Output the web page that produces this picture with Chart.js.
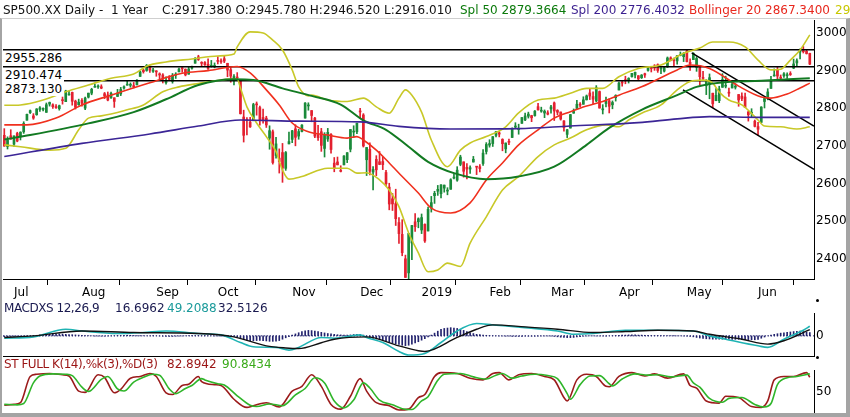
<!DOCTYPE html>
<html>
<head>
<meta charset="utf-8">
<script src="https://cdn.jsdelivr.net/npm/chart.js@4.4.1/dist/chart.umd.min.js"></script>
<style>
  html, body { margin: 0; padding: 0; background: #fff; }
  body { width: 850px; height: 417px; position: relative; overflow: hidden; font-family: "DejaVu Sans", sans-serif; font-size: 12px; }
  canvas { position: absolute; left: 0; }
  .txt { position: absolute; white-space: pre; line-height: 14px; z-index: 2; }
  .narrow { letter-spacing: -0.45px; }
  .level { position: absolute; left: 3px; background: #fff; padding: 0 2px; line-height: 14px; z-index: 2; color: #000; }
  .dot { position: absolute; width: 3px; height: 3px; border-radius: 50%; background: #000; z-index: 2; }
  #frame { position: absolute; left: 0; top: 18px; width: 850px; height: 399px; box-sizing: border-box;
           border-left: 2px solid #a4a4a4; border-right: 4px solid #a4a4a4; border-bottom: 4px solid #a4a4a4;
           border-top: 1px solid #cfcfcf; z-index: 3; pointer-events: none; }
</style>
</head>
<body>
<div class="txt" style="left:3px;top:3px;color:#111">SP500.XX Daily -  1 Year</div>
<div class="txt" style="left:162px;top:3px;color:#111">C:2917.380 O:2945.780 H:2946.520 L:2916.010</div>
<div class="txt" style="left:460px;top:3px;color:#0b7a0b">Spl 50 2879.3664</div>
<div class="txt" style="left:571px;top:3px;color:#3b1f8f">Spl 200 2776.4032</div>
<div class="txt" style="left:689px;top:3px;color:#e8281e">Bollinger 20 2867.3400</div>
<div class="txt" style="left:835px;top:3px;color:#c8c800">29</div>

<div class="txt narrow" style="left:4px;top:301px;color:#1a1a50">MACDXS 12,26,9</div>
<div class="txt" style="left:115px;top:301px;color:#1a1a50">16.6962</div>
<div class="txt" style="left:167px;top:301px;color:#1a9a9a">49.2088</div>
<div class="txt" style="left:218px;top:301px;color:#1a1a50">32.5126</div>

<div class="txt narrow" style="left:4px;top:357px;color:#9b1515">ST FULL K(14),%k(3),%D(3)</div>
<div class="txt" style="left:167px;top:357px;color:#9b1515">82.8942</div>
<div class="txt" style="left:222px;top:357px;color:#3aaa1a">90.8434</div>

<div class="dot" style="left:816px;top:299px;"></div>
<div class="dot" style="left:816px;top:356px;"></div>
<canvas id="price-chart" width="850" height="300" style="top:0"></canvas>
<canvas id="macd-chart" width="850" height="57" style="top:300px"></canvas>
<canvas id="stoch-chart" width="850" height="47" style="top:366px"></canvas>
<div id="frame"></div>

<script>
// daily candles, 27 Jun 2018 .. 25 Jun 2019 (index 0..249)
const opens = [2728.45,2698.69,2727.13,
2704.95,2733.27,2724.19,2737.68,2768.51,2788.56,2779.82,2783.14,2796.93,2797.36,2789.34,2811.35,2809.37,2804.55,2799.17,2820.68,2817.73,2835.49,2842.35,2819.00,2809.73,
2821.17,2800.48,2829.62,2840.29,2855.92,2856.79,2857.19,2838.90,2835.46,2827.88,2827.95,2831.44,2838.32,2853.93,2861.51,2860.99,2860.29,2862.35,2884.69,2901.45,2900.62,2908.94,2898.37,
2896.96,2891.59,2888.64,2868.26,2881.39,2871.57,2888.29,2896.85,2906.38,2903.83,2890.74,2906.60,2919.73,2936.76,2921.83,2921.75,2916.98,2911.65,2910.03,
2926.29,2923.80,2931.69,2919.35,2902.54,2877.53,2882.51,2873.90,2776.87,2770.54,2763.83,2767.05,2811.67,2802.00,2775.66,2773.94,2721.03,2737.87,2674.88,2667.86,2682.65,2640.68,2705.60,
2717.58,2745.45,2726.37,2738.40,2774.13,2806.38,2794.10,2773.93,2730.05,2737.90,2693.52,2718.54,2730.74,2654.60,2657.74,2633.36,2649.97,2663.75,2691.45,2736.97,2737.76,
2790.50,2782.43,2663.51,2691.26,2630.86,2664.44,2658.23,2658.70,2629.68,2590.75,2559.90,2547.05,2496.77,2465.38,2400.56,2363.12,2442.50,2498.77,2498.94,
2476.96,2491.92,2474.33,2535.61,2568.11,2580.00,2573.51,2588.11,2580.31,2585.10,2614.75,2609.28,2651.27,2657.88,2643.48,2638.84,2657.44,2644.97,2644.89,2653.62,2685.49,
2702.32,2706.49,2728.34,2735.05,2717.53,2692.36,2712.40,2722.61,2750.30,2743.50,2760.24,2769.28,2779.05,2780.67,2780.67,2804.35,2792.36,2787.50,2788.11,
2798.22,2814.37,2794.41,2790.27,2766.53,2730.79,2747.61,2787.34,2799.78,2810.38,2810.79,2822.61,2840.76,2831.34,2819.72,2844.52,2796.01,2812.66,2819.72,2809.40,2828.27,
2848.63,2868.24,2876.09,2873.99,2884.16,2888.46,2886.58,2881.37,2891.92,2900.86,2908.32,2912.26,2916.04,2904.81,2898.78,2909.99,2934.00,2928.99,2925.81,2940.58,2937.14,
2952.33,2922.16,2929.21,2908.89,2913.03,2879.61,2859.84,2863.10,2840.19,2820.12,2820.38,2855.80,2858.60,2841.94,2854.02,2856.06,2836.70,2832.41,2830.03,2790.25,2786.94,2766.15,
2751.53,2762.64,2818.09,2828.51,2852.87,2885.83,2903.27,2882.73,2886.24,2886.82,2889.75,2906.71,2920.55,2949.60,2952.71,2951.42,2945.78];

const highs = [2746.09,2724.34,2743.26,
2727.26,2736.58,2737.83,2764.41,2784.65,2795.58,2785.91,2799.22,2804.53,2801.19,2814.19,2816.76,2812.05,2809.70,2808.61,2829.99,2848.03,2845.57,2843.17,2821.74,2824.46,
2825.83,2829.91,2840.38,2853.29,2863.43,2862.44,2862.48,2842.20,2843.40,2843.11,2827.95,2850.49,2855.63,2859.76,2873.23,2867.54,2868.78,2876.16,2898.25,2903.77,2916.50,2912.46,2906.32,
2900.18,2894.21,2892.05,2883.81,2886.93,2892.52,2894.65,2906.76,2908.30,2904.65,2911.17,2912.36,2934.80,2940.91,2923.79,2923.95,2931.15,2927.22,2920.53,
2937.06,2931.42,2939.86,2919.78,2909.64,2889.45,2894.83,2874.02,2795.14,2775.77,2775.99,2813.46,2816.94,2806.04,2797.77,2778.94,2753.59,2742.59,2722.70,2692.38,2706.85,2685.43,2736.69,
2741.67,2756.55,2744.27,2756.82,2815.15,2814.75,2794.10,2775.99,2754.60,2746.80,2735.38,2746.75,2733.16,2669.44,2670.73,2647.55,2674.35,2682.53,2744.00,2753.75,2760.88,
2800.18,2785.93,2696.15,2708.54,2645.06,2674.35,2685.44,2670.19,2635.07,2601.13,2573.99,2585.29,2509.63,2504.41,2410.34,2467.76,2489.10,2520.27,2509.24,
2519.49,2493.14,2538.07,2566.16,2579.82,2595.32,2597.82,2596.27,2589.32,2613.08,2625.76,2645.06,2675.47,2657.88,2653.19,2647.20,2672.38,2644.97,2650.93,2690.44,2708.95,
2716.66,2724.99,2738.98,2738.08,2719.32,2708.07,2718.05,2748.19,2761.85,2757.90,2775.66,2787.33,2789.88,2781.58,2794.20,2813.49,2803.12,2795.76,2793.73,
2808.02,2816.88,2796.44,2790.27,2767.25,2744.13,2784.00,2798.32,2821.24,2815.00,2830.73,2835.41,2852.42,2843.54,2860.31,2846.16,2809.79,2829.87,2825.56,2819.71,2836.03,
2869.40,2872.90,2885.25,2881.28,2893.24,2895.95,2886.88,2889.71,2893.42,2910.54,2909.60,2916.06,2918.00,2908.40,2909.51,2936.31,2936.83,2933.10,2939.88,2949.52,2948.22,
2954.13,2931.68,2947.85,2937.32,2913.03,2897.96,2875.97,2891.31,2840.19,2852.54,2858.68,2892.15,2885.48,2853.86,2868.88,2865.47,2836.70,2841.36,2840.51,2792.03,2799.00,2768.98,
2763.07,2804.49,2827.28,2852.10,2884.97,2904.77,2910.61,2888.57,2895.24,2894.45,2897.27,2930.79,2931.74,2958.06,2964.15,2954.92,2946.52];

const lows = [2699.38,2691.99,2718.03,
2698.95,2711.16,2716.02,2733.52,2768.51,2786.24,2770.77,2781.53,2791.69,2793.39,2789.24,2805.89,2799.77,2800.01,2795.14,2811.12,2817.73,2835.26,2808.34,2798.11,2808.06,
2805.85,2796.34,2827.37,2835.98,2855.92,2853.09,2851.98,2825.81,2819.88,2826.58,2802.49,2831.44,2833.73,2850.62,2861.32,2856.05,2854.03,2862.35,2884.69,2893.50,2898.40,2895.22,2895.14,
2885.13,2876.92,2867.29,2864.12,2875.94,2866.78,2879.20,2896.39,2895.77,2886.16,2890.43,2903.82,2919.73,2927.11,2912.63,2913.70,2903.28,2909.27,2907.50,
2917.91,2919.37,2921.36,2883.92,2869.29,2862.08,2874.27,2784.86,2710.51,2729.44,2749.03,2766.91,2781.81,2755.18,2760.27,2749.22,2691.43,2651.89,2667.84,2628.16,2603.54,2635.34,2705.60,
2708.85,2700.44,2717.94,2737.08,2774.13,2794.99,2764.24,2722.00,2714.98,2685.75,2670.75,2712.16,2681.09,2631.52,2649.82,2631.09,2649.97,2655.89,2684.38,2722.94,2732.76,
2773.38,2697.18,2621.53,2623.14,2583.23,2621.30,2650.26,2637.27,2593.84,2530.54,2528.71,2488.96,2441.18,2408.55,2351.10,2346.58,2397.94,2472.89,2482.82,
2467.47,2443.96,2474.33,2524.56,2547.56,2568.89,2562.02,2577.40,2570.41,2585.10,2612.68,2606.36,2647.58,2617.27,2612.86,2627.01,2657.33,2624.06,2631.05,2648.34,2678.65,
2696.88,2698.75,2724.03,2724.15,2687.26,2681.83,2703.79,2722.61,2748.63,2731.23,2760.24,2767.29,2774.06,2764.55,2779.11,2794.99,2789.47,2775.13,2782.51,
2787.38,2767.66,2782.97,2768.69,2739.09,2722.27,2747.61,2786.73,2799.78,2803.46,2810.79,2821.99,2823.27,2812.43,2817.38,2800.47,2785.02,2803.99,2787.72,2798.77,2819.23,
2848.63,2858.75,2865.17,2867.14,2882.99,2880.78,2873.33,2879.13,2881.99,2898.37,2896.48,2900.71,2895.45,2891.90,2896.35,2908.53,2926.05,2912.84,2917.56,2939.35,2924.11,
2923.36,2900.50,2929.21,2898.21,2862.60,2873.28,2836.40,2825.39,2801.43,2820.12,2815.08,2855.80,2854.23,2831.29,2854.02,2851.11,2805.49,2820.19,2801.58,2766.06,2776.74,2750.52,
2728.81,2762.64,2800.92,2822.45,2852.87,2885.51,2878.53,2874.68,2881.99,2879.62,2887.30,2905.44,2911.43,2931.50,2946.87,2944.05,2916.01];

const closes = [2699.63,2716.31,2718.37,
2726.71,2713.22,2736.61,2759.82,2784.17,2793.84,2774.02,2798.29,2801.31,2798.43,2809.55,2815.62,2804.49,2801.83,2806.98,2820.40,2846.07,2837.44,2818.82,2802.60,2816.29,
2813.36,2827.22,2840.35,2850.40,2858.45,2857.70,2853.58,2833.28,2821.93,2839.96,2818.37,2840.69,2850.13,2857.05,2862.96,2861.82,2856.98,2874.69,2896.74,2897.52,2914.04,2901.13,2901.52,
2896.72,2888.60,2878.05,2871.68,2877.13,2887.89,2888.92,2904.18,2904.98,2888.80,2904.31,2907.95,2930.75,2929.67,2919.37,2915.56,2905.97,2914.00,2913.98,
2924.59,2923.43,2925.51,2901.61,2885.57,2884.43,2880.34,2785.68,2728.37,2767.13,2750.79,2809.92,2809.21,2768.78,2767.78,2755.88,2740.69,2656.10,2705.57,2658.69,2641.25,2682.63,2711.74,
2740.37,2723.06,2738.31,2755.45,2813.89,2806.83,2781.01,2726.22,2722.18,2701.58,2730.20,2736.27,2690.73,2641.89,2649.93,2632.56,2673.45,2682.17,2743.79,2737.80,2760.17,
2790.37,2700.06,2695.95,2633.08,2637.72,2636.78,2651.07,2650.54,2599.95,2545.94,2546.16,2506.96,2467.42,2416.62,2351.10,2467.70,2488.83,2485.74,2506.85,
2510.03,2447.89,2531.94,2549.69,2574.41,2584.96,2596.64,2596.26,2582.61,2610.30,2616.10,2635.96,2670.71,2632.90,2638.70,2642.33,2664.76,2643.85,2640.00,2681.05,2704.10,
2706.53,2724.87,2737.70,2731.61,2706.05,2707.88,2709.80,2744.73,2753.03,2745.73,2775.60,2779.76,2784.70,2774.88,2792.67,2796.11,2793.90,2792.38,2784.49,
2803.69,2792.81,2789.65,2771.45,2748.93,2743.07,2783.30,2791.52,2810.92,2808.48,2822.48,2832.94,2832.57,2824.23,2854.88,2800.71,2798.36,2818.46,2805.37,2815.44,2834.40,
2867.19,2867.24,2873.40,2879.39,2892.74,2895.77,2878.20,2888.21,2888.32,2907.41,2905.58,2907.06,2900.45,2905.03,2907.97,2933.68,2927.25,2926.17,2939.88,2943.03,2945.83,
2923.73,2917.52,2945.64,2932.47,2884.05,2879.42,2870.72,2881.40,2811.87,2834.41,2850.96,2876.32,2859.53,2840.23,2864.36,2856.27,2822.24,2826.06,2802.39,2783.02,2788.86,2752.06,
2744.45,2803.27,2826.15,2843.49,2873.34,2886.73,2885.72,2879.84,2891.64,2886.98,2889.67,2917.75,2926.46,2954.18,2950.46,2945.35,2917.38];

// month axis
const monthIdx = [3, 24, 47, 66, 89, 110, 129, 150, 169, 190, 211, 233];
const monthLabels = ["Jul", "Aug", "Sep", "Oct", "Nov", "Dec", "2019", "Feb", "Mar", "Apr", "May", "Jun"];
const priceTicks = [2400, 2500, 2600, 2700, 2800, 2900, 3000];

// overlays (index, value)
const sma200X = [0, 24, 45, 60, 73, 91, 110, 122, 138, 159, 175, 196, 208, 218, 234, 249];
const sma200Y = [2672, 2707, 2732, 2753, 2769, 2766, 2764, 2752, 2745, 2746, 2753, 2762, 2772, 2778, 2776, 2776];

const sma50X = [0, 8, 26, 40, 50, 60, 71, 77, 86, 95, 104, 111, 118, 125, 131, 139, 149, 159, 170, 180, 187, 197, 208, 214, 221, 234, 249];
const sma50Y = [2717, 2729, 2760, 2790, 2824, 2862, 2877, 2875, 2853, 2833, 2810, 2768, 2743, 2698, 2658, 2628, 2612, 2619, 2645, 2703, 2748, 2796, 2835, 2857, 2868, 2873, 2880];

const bbMidX = [0, 7, 16, 24, 33, 45, 55, 63, 72, 76, 81, 85, 89, 94, 100, 106, 109, 111, 115, 119, 123, 128, 132, 138, 144, 149, 154, 159, 165, 170, 175, 180, 185, 190, 197, 208, 212, 218, 227, 234, 237, 242, 246, 249];
const bbMidY = [2756, 2756, 2774, 2809, 2835, 2868, 2893, 2900, 2911, 2894, 2849, 2809, 2761, 2738, 2729, 2721, 2725, 2716, 2689, 2655, 2619, 2575, 2535, 2522, 2549, 2610, 2655, 2703, 2743, 2774, 2791, 2806, 2818, 2835, 2857, 2902, 2915, 2906, 2859, 2830, 2827, 2838, 2854, 2867];

const bbUpX = [0, 5, 12, 19, 26, 33, 40, 44, 50, 58, 66, 71, 72, 76, 80, 83, 86, 89, 91, 94, 95, 100, 106, 111, 115, 119, 122, 124, 126, 129, 132, 137, 141, 144, 149, 155, 159, 165, 170, 175, 180, 185, 190, 196, 203, 210, 215, 219, 224, 229, 233, 237, 240, 243, 246, 249];
const bbUpY = [2808, 2809, 2822, 2844, 2862, 2880, 2891, 2912, 2923, 2931, 2939, 2944, 2963, 3003, 3000, 2981, 2955, 2902, 2857, 2833, 2835, 2822, 2818, 2827, 2804, 2787, 2827, 2849, 2835, 2790, 2716, 2645, 2689, 2708, 2725, 2751, 2788, 2822, 2827, 2840, 2853, 2853, 2884, 2906, 2915, 2946, 2960, 2976, 2976, 2963, 2928, 2902, 2904, 2928, 2955, 2995];

const bbLoX = [0, 5, 14, 19, 23, 26, 30, 38, 43, 49, 54, 60, 69, 72, 73, 75, 78, 81, 84, 86, 88, 92, 100, 106, 109, 112, 116, 119, 122, 125, 128, 131, 134, 137, 141, 144, 149, 154, 159, 165, 170, 175, 180, 186, 190, 193, 197, 203, 208, 212, 216, 219, 221, 224, 228, 233, 235, 240, 245, 249];
const bbLoY = [2703, 2698, 2689, 2694, 2743, 2774, 2780, 2796, 2809, 2844, 2857, 2866, 2877, 2878, 2854, 2804, 2761, 2725, 2685, 2636, 2612, 2619, 2641, 2641, 2628, 2629, 2610, 2583, 2539, 2469, 2416, 2366, 2371, 2389, 2380, 2442, 2512, 2583, 2619, 2672, 2703, 2721, 2743, 2756, 2751, 2769, 2787, 2809, 2849, 2871, 2875, 2867, 2843, 2822, 2809, 2769, 2753, 2751, 2745, 2751];

const levels = [2955.286, 2910.474, 2873.130];
const levelLabels = ["2955.286", "2910.474", "2873.130"];
const trendA = [[212.5, 2947], [250.3, 2753]];
const trendB = [[209.8, 2849], [250.3, 2638]];

// MACD panel
const macdX = [0, 9, 19, 24, 35, 43, 50, 60, 67, 73, 77, 84, 88, 91, 98, 102, 110, 112, 117, 122, 125, 130, 135, 140, 146, 151, 161, 171, 176, 182, 192, 202, 213, 218, 223, 233, 236, 241, 247, 249];
const macdY = [-12, -5, 34, 25, 12, 17, 25, 12, 5, -34, -56, -59, -73, -59, -8, -12, 5, -8, -34, -80, -98, -90, -34, 25, 63, 56, 42, 25, 8, 12, 29, 29, 25, 0, -17, -51, -59, -17, 29, 49];
const signalX = [0, 9, 24, 40, 60, 71, 81, 87, 91, 98, 102, 112, 122, 128, 130, 140, 146, 151, 161, 171, 182, 192, 202, 213, 218, 228, 236, 241, 249];
const signalY = [-8, 0, 25, 17, 12, -5, -51, -62, -65, -35, -17, -5, -51, -76, -80, -8, 34, 56, 46, 34, 17, 22, 29, 25, 8, -17, -42, -25, 32];
const histVals = [-4,-4,-3,
-3,-2,-2,-1,-1,0,2,3,5,7,8,9,10,10,10,9,8,7,6,5,4,
3,2,1,0,-1,-2,-2,-2,-1,0,1,2,2,3,3,3,2,2,1,1,0,0,1,
0,-1,-2,-3,-3,-3,-2,-2,-1,0,1,2,2,2,1,1,0,0,-1,
-1,-1,-2,-2,-3,-3,-4,-10,-16,-21,-24,-25,-24,-23,-24,-26,-28,-28,-27,-24,-17,-10,-4,
4,10,16,22,26,28,27,25,22,18,15,12,10,8,6,5,4,4,5,7,8,
8,4,-2,-8,-12,-16,-20,-24,-28,-32,-36,-40,-44,-48,-50,-48,-42,-36,-30,
-22,-14,-6,4,14,24,34,38,40,42,40,38,34,28,22,16,12,8,6,4,3,
2,1,0,-1,-1,-2,-2,-3,-3,-3,-3,-2,-2,-2,-2,-1,-1,-1,-1,
-2,-3,-5,-7,-8,-9,-9,-8,-6,-4,-2,-1,0,0,-1,-1,-1,-1,0,1,2,
3,4,4,5,5,5,4,4,3,3,2,2,2,1,1,1,1,1,0,0,-1,
-2,-3,-5,-8,-11,-13,-15,-16,-17,-17,-17,-17,-17,-17,-18,-18,-18,-19,-19,-19,-20,-20,
-18,-12,-6,0,4,8,11,14,16,18,20,22,23,24,22,19,17];

// stochastic panel
const stochKX = [0,3,5,8,10,14,18,20,23,25,29,31,34,36,39,42,45,47,50,52,55,57,60,61,65,67,71,75,77,81,85,89,92,95,98,101,104,107,110,112,115,119,122,125,128,130,133,135,140,144,148,151,153,156,159,163,167,170,173,174,177,180,183,186,187,190,194,198,201,205,210,212,214,217,221,223,227,231,234,236,238,241,244,248,249];
const stochKY = [18,20,24,85,90,92,89,86,51,48,89,83,47,55,81,85,92,85,47,43,64,67,85,73,66,64,32,13,17,24,14,51,62,89,62,20,9,39,80,51,24,17,7,9,36,43,85,94,92,81,77,92,94,77,89,92,85,77,36,28,77,90,85,62,61,85,94,86,91,81,91,64,58,28,23,39,36,15,13,28,77,85,85,94,83];
const stochDX = [0,4,6,9,11,15,19,21,24,26,30,32,35,37,40,43,46,48,51,53,56,58,61,62,66,68,72,76,78,82,86,90,93,96,99,102,105,108,111,113,116,120,123,126,129,131,134,136,141,145,149,152,154,157,160,164,168,171,174,175,178,181,184,187,188,191,195,199,202,206,211,213,215,218,222,224,228,232,235,237,239,242,245,249];
const stochDY = [20,19,22,70,86,91,90,87,60,50,78,85,56,51,72,83,90,88,56,45,57,64,80,77,68,65,40,18,15,21,17,42,57,82,70,28,12,30,70,58,30,19,10,8,28,38,76,90,92,84,79,88,92,81,86,90,87,80,45,32,66,86,87,68,63,79,91,88,89,84,88,70,60,34,25,34,36,20,14,22,66,82,85,91];

const X_MIN = -0.4;
const X_MAX = 250.3;

Chart.defaults.font.family = "'DejaVu Sans', sans-serif";
Chart.defaults.font.size = 12;
Chart.defaults.color = "#000";
Chart.defaults.animation = false;

const toPoints = (xs, ys) => xs.map((x, i) => ({ x, y: ys[i] }));

const lineSet = (data, color, width) => ({
    type: "line",
    data,
    borderColor: color,
    borderWidth: width,
    pointRadius: 0,
    cubicInterpolationMode: "monotone",
    order: 1
});

const hiddenX = () => ({
    type: "linear",
    min: X_MIN,
    max: X_MAX,
    bounds: "data",
    offset: false,
    display: false
});

// right-hand value axis, fixed width, no label overhang padding
const rightAxis = (min, max, ticks) => ({
    type: "linear",
    position: "right",
    min,
    max,
    bounds: "data",
    afterBuildTicks: axis => { axis.ticks = ticks.map(v => ({ value: v })); },
    afterFit: axis => {
        axis.width = 36;
        axis.paddingTop = 0;
        axis.paddingBottom = 0;
    },
    ticks: { padding: 2, callback: value => String(value) },
    grid: { display: false, drawTicks: false },
    border: { display: true, color: "#000" }
});

const baseOptions = (padTop) => ({
    responsive: false,
    layout: { padding: { top: padTop, left: 3, right: 0, bottom: 0 } },
    plugins: { legend: { display: false }, tooltip: { enabled: false } }
});

const placeLevels = (chart) => {
    const yScale = chart.scales.y;
    levels.forEach((level, i) => {
        const el = document.createElement("div");
        el.className = "level";
        el.textContent = levelLabels[i];
        el.style.top = (yScale.getPixelForValue(level) + 1.5) + "px";
        document.body.appendChild(el);
    });
}

const priceChart = () => {
    const idx = closes.map((_, i) => i);
    const colors = closes.map((c, i) => c >= opens[i] ? "#1a8a3a" : "#e3202f");

    const levelSets = levels.map(level =>
        lineSet([{ x: X_MIN, y: level }, { x: X_MAX, y: level }], "#000", 1.5));

    const chart = new Chart(document.getElementById("price-chart"), {
        type: "bar",
        data: {
            datasets: [
                {
                    data: idx.map(i => ({ x: i, y: [lows[i], highs[i]] })),
                    backgroundColor: colors,
                    barThickness: 1,
                    grouped: false,
                    order: 3
                },
                {
                    data: idx.map(i => ({ x: i, y: [opens[i], closes[i]] })),
                    backgroundColor: colors,
                    barThickness: 2,
                    minBarLength: 1,
                    grouped: false,
                    order: 2
                },
                lineSet(toPoints(sma200X, sma200Y), "#3b2596", 1.6),
                lineSet(toPoints(sma50X, sma50Y), "#127a22", 2),
                lineSet(toPoints(bbUpX, bbUpY), "#c8c828", 1.6),
                lineSet(toPoints(bbLoX, bbLoY), "#c8c828", 1.6),
                lineSet(toPoints(bbMidX, bbMidY), "#f0301e", 1.6),
                ...levelSets,
                lineSet(trendA.map(p => ({ x: p[0], y: p[1] })), "#000", 1.5),
                lineSet(trendB.map(p => ({ x: p[0], y: p[1] })), "#000", 1.5)
            ]
        },
        options: {
            ...baseOptions(20),
            scales: {
                x: {
                    type: "linear",
                    min: X_MIN,
                    max: X_MAX,
                    bounds: "data",
                    offset: false,
                    afterBuildTicks: axis => { axis.ticks = monthIdx.map(v => ({ value: v })); },
                    afterFit: axis => { axis.height = 21; },
                    ticks: {
                        autoSkip: false,
                        maxRotation: 0,
                        align: "start",
                        padding: 1,
                        callback: (value, index) => monthLabels[index]
                    },
                    grid: { drawOnChartArea: false, drawTicks: true, tickLength: 6, color: "#000" },
                    border: { display: true, color: "#000" }
                },
                y: rightAxis(2346.9, 3034.5, priceTicks)
            }
        }
    });

    placeLevels(chart);
}

const macdChart = () => {
    new Chart(document.getElementById("macd-chart"), {
        type: "bar",
        data: {
            datasets: [
                {
                    data: histVals.map((v, i) => ({ x: i, y: v })),
                    backgroundColor: "#23236e",
                    barThickness: 1,
                    grouped: false,
                    order: 3
                },
                {
                    ...lineSet([{ x: X_MIN, y: 0 }, { x: X_MAX, y: 0 }], "#23236e", 1),
                    borderDash: [1, 2],
                    order: 2
                },
                lineSet(toPoints(signalX, signalY), "#111111", 1.4),
                lineSet(toPoints(macdX, macdY), "#1fb3b3", 1.6)
            ]
        },
        options: {
            ...baseOptions(13),
            scales: {
                x: {
                    ...hiddenX(),
                    display: true,
                    ticks: { display: false },
                    grid: { display: false, drawTicks: false },
                    border: { display: true, color: "#000" },
                    afterFit: axis => { axis.height = 1; }
                },
                y: rightAxis(-103, 117, [0])
            }
        }
    });
}

const stochChart = () => {
    new Chart(document.getElementById("stoch-chart"), {
        type: "line",
        data: {
            datasets: [
                lineSet(toPoints(stochDX, stochDY), "#2fb52a", 1.6),
                lineSet(toPoints(stochKX, stochKY), "#9b1b1b", 1.6)
            ]
        },
        options: {
            ...baseOptions(4),
            scales: {
                x: hiddenX(),
                y: rightAxis(0, 100, [50])
            }
        }
    });
}

const loadPage = () => {
    priceChart();
    macdChart();
    stochChart();
}

window.onload = () => loadPage();
</script>
</body>
</html>
